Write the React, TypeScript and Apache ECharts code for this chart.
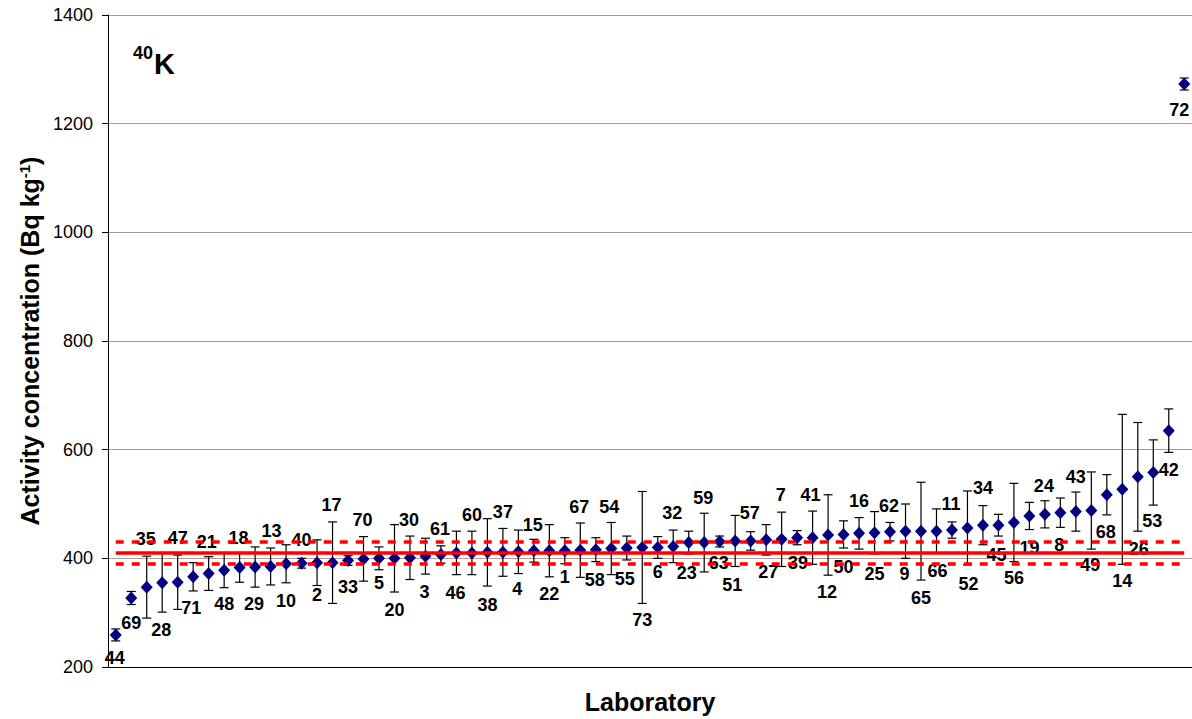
import React, { useEffect, useRef } from 'react';
import * as echarts from 'echarts';

// Laboratory codes, ordered by reported activity
const labs = [
  '44', '69', '35', '28', '47', '71', '21', '48', '18', '29',
  '13', '10', '40', '2', '17', '33', '70', '5', '20', '30',
  '3', '61', '46', '60', '38', '37', '4', '15', '22', '1',
  '67', '58', '54', '55', '73', '6', '32', '23', '59', '63',
  '51', '57', '27', '7', '39', '41', '12', '50', '16', '25',
  '62', '9', '65', '66', '11', '52', '34', '45', '56', '19',
  '24', '8', '43', '49', '68', '14', '26', '53', '42', '72',
];

// Reported 40K activity concentration (Bq/kg)
const activity = [
  259, 327, 347, 355, 356, 366, 372, 378, 383, 384,
  385, 390, 391, 392, 392, 396, 399, 400, 400, 401,
  404, 407, 410, 410, 411, 411, 412, 414, 414, 414,
  415, 416, 418, 419, 420, 420, 422, 429, 429, 431,
  432, 432, 434, 435, 438, 438, 443, 444, 446, 447,
  449, 450, 450, 450, 452, 456, 461, 461, 466, 478,
  481, 484, 486, 488, 517, 527, 550, 558, 635, 1273,
];

// Reported expanded uncertainty (Bq/kg)
const uncertainty = [
  11, 12, 57, 54, 50, 26, 31, 32, 27, 37,
  34, 35, 9, 42, 75, 9, 41, 21, 62, 40,
  33, 16, 40, 40, 62, 44, 40, 21, 48, 24,
  50, 22, 48, 22, 103, 20, 30, 21, 54, 10,
  47, 17, 28, 50, 13, 49, 74, 25, 29, 39,
  17, 50, 90, 41, 15, 68, 36, 20, 72, 25,
  25, 27, 36, 71, 37, 138, 100, 60, 40, 11,
];

// Shift (px) of each laboratory code relative to its marker
const labelShiftY = [
  23, 25, -48, 47, -44, 31, -32, 34, -30, 37,
  -35, 37, -23, 32, -58, 26, -39, 25, 52, -38,
  36, -26, 40, -38, 53, -40, 37, -26, 43, 26,
  -43, 30, -42, 31, 73, 25, -33, 30, -45, 22,
  44, -28, 32, -44, 25, -43, 57, 33, -32, 41,
  -26, 43, 67, 40, -26, 56, -37, 30, 56, 32,
  -28, 32, -35, 54, 37, 92, 72, 49, 39, 26,
];
const labelShiftX = [
  -1, 0, -1, -1, 0, -2, -2, 0, -1, -1,
  1, 0, 0, 0, -1, 0, -1, 0, 0, -1,
  -1, -1, -1, 0, 0, 0, -1, -1, 0, 0,
  -1, -1, -2, -2, 0, 0, -1, -2, -1, -1,
  -3, -1, 2, -1, 1, -2, -1, 0, 0, 0,
  -1, -1, 0, 1, -1, 1, 0, -2, 0, 0,
  -1, -1, 0, -1, -1, 0, 1, -1, 0, -5,
];

// Assigned value and its acceptance band
const refValue = 410;
const refLower = 390;
const refUpper = 430;

const yMin = 200;
const yMax = 1400;
const yStep = 200;

const FONT = "'Liberation Sans', Arial, Helvetica, sans-serif";

export default function App() {
  const ref = useRef<HTMLDivElement>(null);

  useEffect(() => {
    document.body.style.margin = '0';
    const chart = echarts.init(ref.current!, null, { renderer: 'svg' });
    const last = labs.length - 1;
    const errData = activity.map((v, i) => [i, v - uncertainty[i], v + uncertainty[i]]);
    const dash = [8, 8];
    const red = '#ff0000';

    chart.setOption({
      animation: false,
      grid: { left: 108, right: 0, top: 15, bottom: 50 },
      xAxis: {
        type: 'category',
        data: labs,
        boundaryGap: true,
        axisLine: { lineStyle: { color: '#000', width: 1 } },
        axisTick: { show: false },
        axisLabel: { show: false },
        splitLine: { show: false },
        name: 'Laboratory',
        nameLocation: 'middle',
        nameGap: 22,
        nameTextStyle: { fontFamily: FONT, fontSize: 25, fontWeight: 'bold', color: '#000' },
      },
      yAxis: {
        type: 'value',
        min: yMin,
        max: yMax,
        interval: yStep,
        axisLine: { show: true, lineStyle: { color: '#000' } },
        axisTick: { show: true, length: 6, lineStyle: { color: '#000' } },
        axisLabel: {
          fontFamily: FONT,
          fontSize: 18,
          color: '#000',
          margin: 15,
          formatter: (v: number) => String(v),
        },
        splitLine: { lineStyle: { color: '#a0a0a0', width: 1 } },
        name: '{t|Activity concentration (Bq kg}{s|-1}{t|)}',
        nameLocation: 'middle',
        nameRotate: 90,
        nameGap: 64,
        nameTextStyle: {
          rich: {
            t: { fontFamily: FONT, fontSize: 25, fontWeight: 'bold', color: '#000' },
            s: { fontFamily: FONT, fontSize: 15, fontWeight: 'bold', color: '#000', verticalAlign: 'top' },
          },
        },
      },
      graphic: [
        {
          type: 'text',
          x: 133,
          y: 53,
          style: { text: '40', fontFamily: FONT, fontSize: 18, fontWeight: 'bold', fill: '#000', align: 'left', verticalAlign: 'middle' },
        },
        {
          type: 'text',
          x: 154,
          y: 64,
          style: { text: 'K', fontFamily: FONT, fontSize: 29, fontWeight: 'bold', fill: '#000', align: 'left', verticalAlign: 'middle' },
        },
      ],
      series: [
        {
          type: 'custom',
          z: 2,
          silent: true,
          data: errData,
          encode: { x: 0, y: [1, 2] },
          renderItem: (_params: any, api: any) => {
            const x = api.value(0);
            const lo = api.coord([x, api.value(1)]);
            const hi = api.coord([x, api.value(2)]);
            const cap = 4.5;
            const style = { stroke: '#000', lineWidth: 1.2 };
            return {
              type: 'group',
              children: [
                { type: 'line', shape: { x1: lo[0], y1: lo[1], x2: hi[0], y2: hi[1] }, style },
                { type: 'line', shape: { x1: lo[0] - cap, y1: lo[1], x2: lo[0] + cap, y2: lo[1] }, style },
                { type: 'line', shape: { x1: hi[0] - cap, y1: hi[1], x2: hi[0] + cap, y2: hi[1] }, style },
              ],
            };
          },
        },
        {
          type: 'line',
          z: 3,
          data: [],
          silent: true,
          markLine: {
            silent: true,
            symbol: 'none',
            label: { show: false },
            lineStyle: { color: red, width: 3.5 },
            data: [
              [{ coord: [0, refValue], lineStyle: { type: 'solid', color: red, width: 3.5 } }, { coord: [last, refValue] }],
              [{ coord: [0, refLower], lineStyle: { type: dash, color: red, width: 3.5 } }, { coord: [last, refLower] }],
              [{ coord: [0, refUpper], lineStyle: { type: dash, color: red, width: 3.5 } }, { coord: [last, refUpper] }],
            ],
          },
        },
        {
          type: 'scatter',
          z: 4,
          symbol: 'diamond',
          symbolSize: [12, 13],
          itemStyle: { color: '#000080', opacity: 1 },
          data: activity.map((v, i) => ({
            value: v,
            label: { offset: [labelShiftX[i], labelShiftY[i]] },
          })),
          label: {
            show: true,
            position: 'inside',
            formatter: (p: any) => labs[p.dataIndex],
            fontFamily: FONT,
            fontSize: 18,
            fontWeight: 'bold',
            color: '#000',
            opacity: 1,
          },
        },
      ],
    });

    return () => chart.dispose();
  }, []);

  return <div ref={ref} style={{ width: 1192, height: 719 }} />;
}
